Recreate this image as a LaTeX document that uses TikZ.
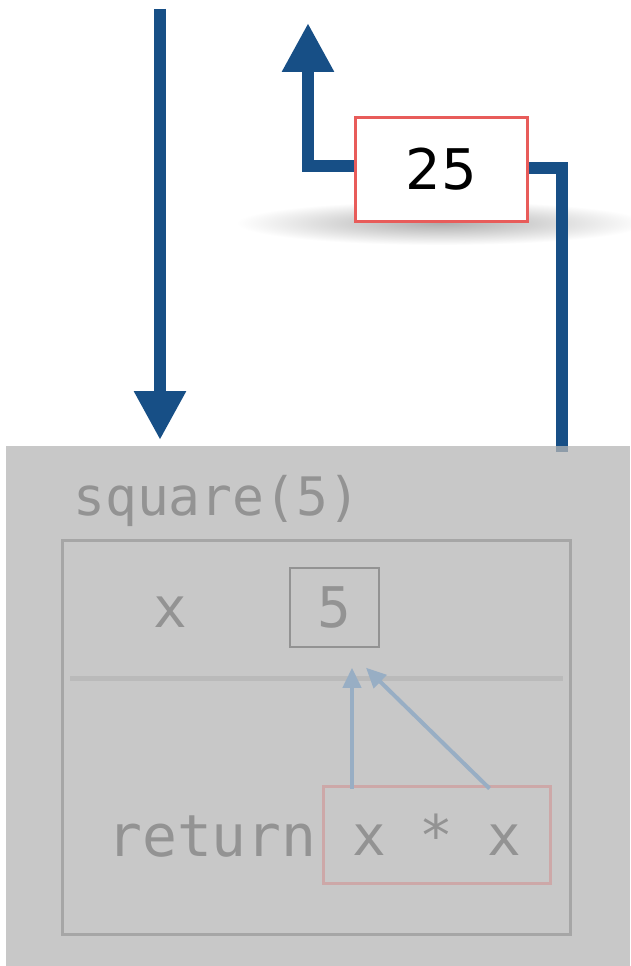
\documentclass[tikz,border=0pt]{standalone}
\usepackage{fontspec}
\setmainfont{DejaVu Sans}
\newfontfamily\codefont{DejaVu Sans Mono}
\usetikzlibrary{arrows.meta}
\definecolor{flowblue}{HTML}{174F86}
\definecolor{useblue}{HTML}{98AEC4}
\definecolor{framegray}{HTML}{B6B6B6}
\definecolor{codegray}{HTML}{939393}
\definecolor{boxgray}{HTML}{A6A6A6}
\definecolor{resred}{HTML}{E85C5A}
\definecolor{exprpink}{HTML}{CDA8A8}

\begin{document}
\begin{tikzpicture}[x=1pt, y=-1pt, every node/.style={inner sep=0pt},
  flow/.style={draw=flowblue, line width=12pt, -{Triangle[width=49pt,length=49pt]}},
  uses/.style={draw=useblue, line width=4pt, -{Triangle[width=18pt,length=20pt]}},
  code/.style={font=\codefont\fontsize{56}{60}\selectfont, text=codegray},
  resbox/.style={draw=resred, line width=3pt, fill=white, minimum width=172pt, minimum height=104pt, font=\fontsize{56}{64}\selectfont}]
\fill[white] (0,0) rectangle (630,966);
\useasboundingbox (0,0) rectangle (630,966);
\shade[inner color=black!32, outer color=white] (441,223) ellipse [x radius=205, y radius=22];
\node[resbox] (res) at (441.5,169.5) {25};
\coordinate (call) at (160,9);
\coordinate (enter) at (160,440);
\coordinate (back) at (308,23);
\coordinate (ret) at (562,452);
\draw[flow] (call) -- (enter);
\draw[flow] ([yshift=4pt]res.west) -| (back);
\draw[flow, -] ([yshift=2pt]res.east) -| (ret);
\node[fill=framegray, fill opacity=.75, minimum width=624pt, minimum height=520pt] (frame) at (318,706) {};
\node[draw=boxgray, line width=3pt, minimum width=508pt, minimum height=394pt] (body) at (316,737) {};
\node[code, font=\codefont\fontsize{53}{60}\selectfont, anchor=base west] (title) at (73,515) {square(5)};
\node[code, anchor=base] (name) at (170,627) {x};
\node[code, draw=codegray, line width=1.5pt, minimum width=89pt, minimum height=79pt] (val) at (334.5,607.5) {5};
\draw[line width=5pt, draw=black!27] (70,678) -- (563,678);
\node[code, font=\codefont\fontsize{58}{60}\selectfont, anchor=base west] (kw) at (107,856) {return};
\node[code, draw=exprpink, line width=3pt, minimum width=227pt, minimum height=97pt] (expr) at (436.5,834.5) {x * x};
\draw[uses] ([xshift=30.5pt, yshift=-4pt]expr.north west) -- ([xshift=17.5pt, yshift=-20pt]val.south);
\draw[uses] ([xshift=-62pt, yshift=-4pt]expr.north east) -- ([xshift=31.5pt, yshift=-20pt]val.south);
\end{tikzpicture}
\end{document}
